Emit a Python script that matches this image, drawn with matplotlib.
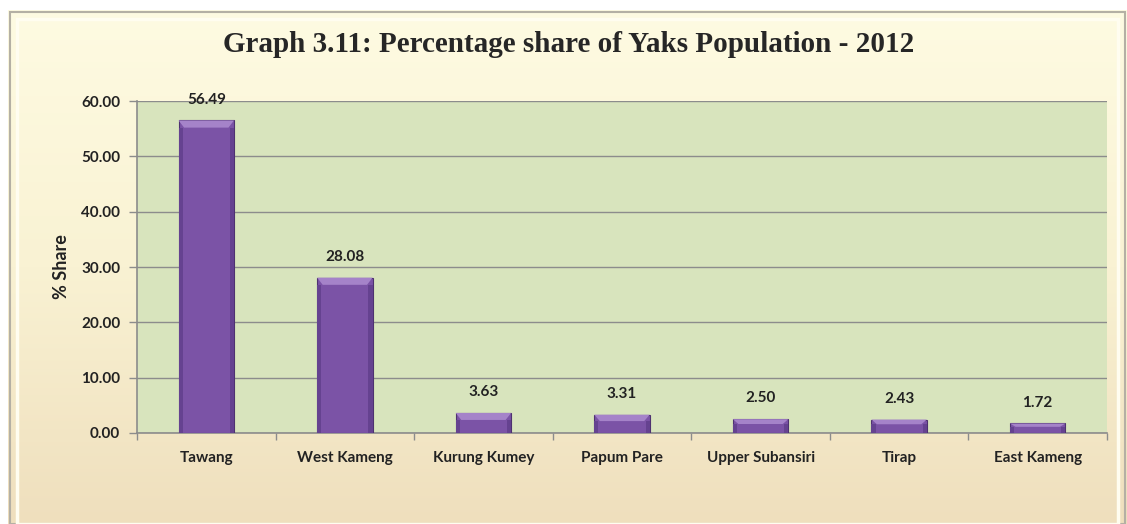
import numpy as np
import matplotlib
matplotlib.use("Agg")
import matplotlib.pyplot as plt
from matplotlib.patches import Rectangle, Polygon
from matplotlib.colors import LinearSegmentedColormap

districts = ["Tawang", "West Kameng", "Kurung Kumey", "Papum Pare",
             "Upper Subansiri", "Tirap", "East Kameng"]
share = [56.49, 28.08, 3.63, 3.31, 2.50, 2.43, 1.72]
yticks = [0, 10, 20, 30, 40, 50, 60]

TITLE = "Graph 3.11: Percentage share of Yaks Population - 2012"
W, H = 1127, 524
LBL = dict(fontweight="bold", family="Lato", color="#222222")

fig = plt.figure(figsize=(W / 100, H / 100), dpi=100)
fig.patch.set_facecolor("white")

# outer chart frame with gradient fill
bg = fig.add_axes([8 / W, 0, 1 - 8 / W, 1 - 10 / H])
bg_cmap = LinearSegmentedColormap.from_list("bg", ["#fefbe2", "#f9f2d3", "#efdfbd"])
grad = np.linspace(0, 1, 256).reshape(-1, 1)
bg.imshow(grad, aspect="auto", cmap=bg_cmap, extent=[0, 1, 0, 1], origin="upper")
bg.set_xlim(0, 1)
bg.set_ylim(0, 1)
bg.axis("off")
bg.add_patch(Rectangle((0.002, 0.0), 0.996, 0.996, fill=False,
                       edgecolor="#b4b0a4", linewidth=1.5, transform=bg.transAxes))
bg.add_patch(Rectangle((0.008, 0.0), 0.984, 0.982, fill=False,
                       edgecolor="#fffdf0", linewidth=2.5, transform=bg.transAxes))

ax = fig.add_axes([137 / W, 1 - 433 / H, (1107 - 137) / W, (433 - 101) / H])
ax.set_facecolor("#d8e4bd")
x = np.arange(len(districts))
bw = 0.40
ax.bar(x, share, width=bw, color="#7b53a6", edgecolor="#4e3270",
       linewidth=0.8, zorder=3)

# bevel highlight on each bar
for xi, v in zip(x, share):
    bev = min(v * 0.35, 1.3)
    l, r = xi - bw / 2, xi + bw / 2
    ax.add_patch(Polygon([(l, v), (r, v), (r - 0.04, v - bev), (l + 0.04, v - bev)],
                         facecolor="#a583c9", edgecolor="none", zorder=4))
    ax.add_patch(Rectangle((l, 0), 0.03, v - bev, facecolor="#654290",
                           edgecolor="none", zorder=4))
    ax.add_patch(Rectangle((r - 0.03, 0), 0.03, v - bev, facecolor="#654290",
                           edgecolor="none", zorder=4))
    ax.annotate(f"{v:.2f}", (xi, v), xytext=(0, 15), textcoords="offset points",
                ha="center", va="center", fontsize=11, zorder=5, **LBL)

ax.set_xlim(-0.5, len(districts) - 0.5)
ax.set_ylim(0, 60)
ax.set_yticks(yticks)
ax.set_yticklabels([f"{t:.2f}" for t in yticks], fontsize=11, **LBL)
ax.yaxis.grid(True, color="#8c8c8c", linewidth=1, zorder=1)
ax.set_axisbelow(True)

ax.set_xticks(np.arange(len(districts) + 1) - 0.5)
ax.set_xticklabels([])
ax.set_xticks(x, minor=True)
ax.set_xticklabels(districts, minor=True, fontsize=11, **LBL)
ax.tick_params(axis="x", which="minor", length=0, pad=13)
ax.tick_params(axis="x", which="major", length=5, color="#8c8c8c", width=1)
ax.tick_params(axis="y", length=6, color="#8c8c8c", width=1, pad=6)

for s in ["top", "right"]:
    ax.spines[s].set_visible(False)
for s in ["left", "bottom"]:
    ax.spines[s].set_color("#8c8c8c")
    ax.spines[s].set_linewidth(1.2)

ax.set_ylabel("% Share", fontsize=13, labelpad=8, **LBL)

fig.text(569 / W, 1 - 45 / H, TITLE, ha="center", va="center", fontsize=21,
         fontweight="bold", family="Liberation Serif", color="#262626")

fig.savefig("out.png", dpi=100, facecolor=fig.get_facecolor())
